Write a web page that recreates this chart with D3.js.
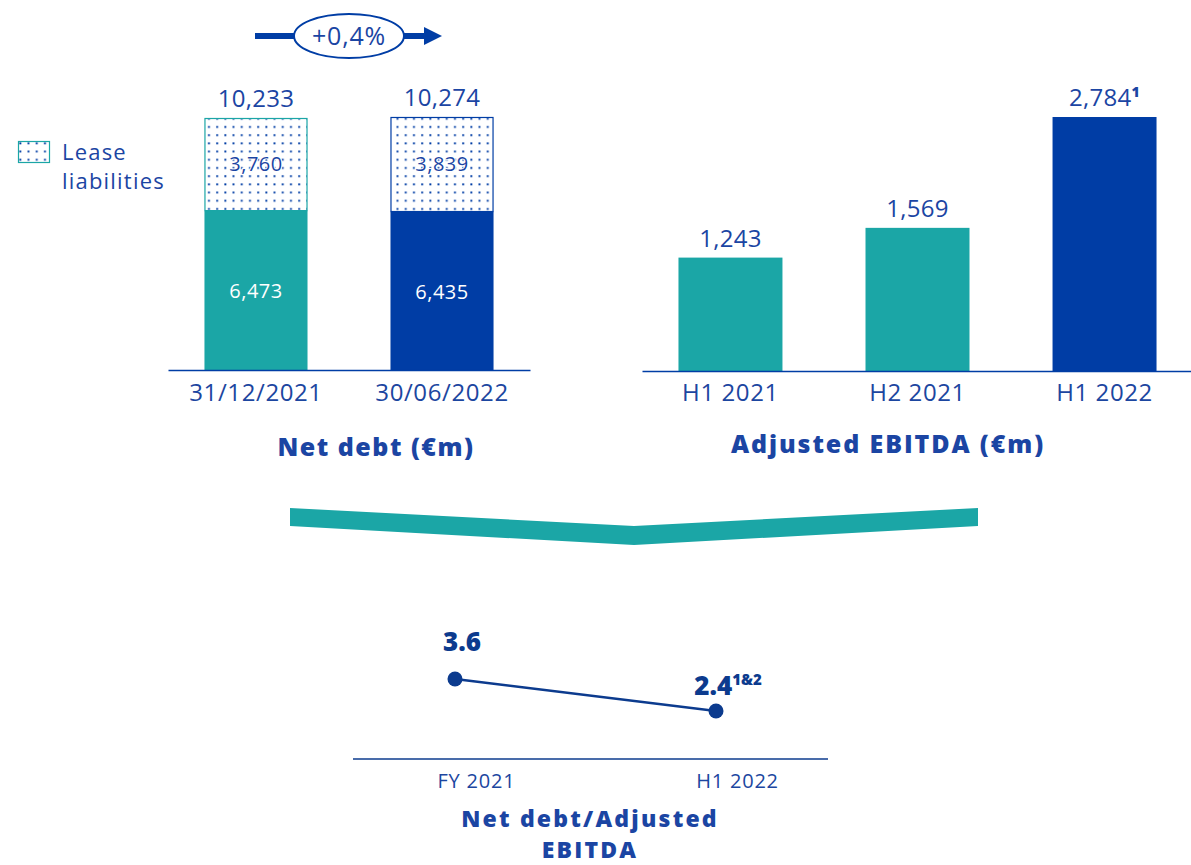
<!DOCTYPE html>
<html>
<head>
<meta charset="utf-8">
<script src="https://cdn.jsdelivr.net/npm/d3@7"></script>
<style>
  body { margin: 0; background: #fff; }
  svg { font-family: "Open Sans", sans-serif; }
  .axis text { fill: #1c46a0; }
</style>
</head>
<body>
<svg id="chart" width="1191" height="865"></svg>
<script>
// data
var debtDates = ["31/12/2021", "30/06/2022"];
var netDebtExLease = [6473, 6435];
var leaseLiab = [3760, 3839];
var netDebtTotal = [10233, 10274];
var debtChange = "+0,4%";

var ebitdaPeriods = ["H1 2021", "H2 2021", "H1 2022"];
var ebitdaValues = [1243, 1569, 2784];
var ebitdaNotes = ["", "", "1"];

var ratioPeriods = ["FY 2021", "H1 2022"];
var ratioValues = [3.6, 2.4];
var ratioNotes = ["", "1&2"];

var teal = "#1ba6a6", navy = "#003da5", txt = "#1b45a3", dark = "#0c3b8e";

var svg = d3.select("#chart");

// dotted pattern for lease liabilities
var defs = svg.append("defs");
var pat = defs.append("pattern").attr("id", "dots")
  .attr("patternUnits", "userSpaceOnUse").attr("width", 8.2).attr("height", 8.2);
pat.append("rect").attr("width", 8.2).attr("height", 8.2).attr("fill", "#fff");
pat.append("rect").attr("x", 3).attr("y", 3).attr("width", 1.9).attr("height", 1.9).attr("fill", navy);

// ---------- Net debt ----------
var base1 = 370;
var x1 = d3.scaleBand().domain(debtDates).range([168, 530]).paddingInner(0.446).paddingOuter(0.196);
var y1 = d3.scaleLinear().domain([0, 10233]).range([base1, 118]);
var fills1 = [teal, navy];

var g1 = svg.append("g");
g1.selectAll("rect.lower").data(debtDates).enter().append("rect")
  .attr("x", function(d) { return x1(d); })
  .attr("width", x1.bandwidth())
  .attr("y", function(d, i) { return y1(netDebtExLease[i]); })
  .attr("height", function(d, i) { return base1 - y1(netDebtExLease[i]); })
  .attr("fill", function(d, i) { return fills1[i]; });

g1.selectAll("rect.lease").data(debtDates).enter().append("rect")
  .attr("x", function(d) { return x1(d) + 0.5; })
  .attr("width", x1.bandwidth() - 1)
  .attr("y", function(d, i) { return y1(netDebtTotal[i]) + 0.5; })
  .attr("height", function(d, i) { return y1(netDebtExLease[i]) - y1(netDebtTotal[i]) - 0.5; })
  .attr("fill", "url(#dots)")
  .attr("stroke", function(d, i) { return fills1[i]; })
  .attr("stroke-width", 1.2);

g1.selectAll("text.low").data(debtDates).enter().append("text")
  .attr("x", function(d) { return x1(d) + x1.bandwidth() / 2; })
  .attr("y", function(d, i) { return (y1(netDebtExLease[i]) + base1) / 2 + 8; })
  .attr("text-anchor", "middle").attr("font-size", 20).attr("letter-spacing", 0.5).attr("fill", "#fff")
  .text(function(d, i) { return d3.format(",")(netDebtExLease[i]); });

g1.selectAll("text.lease").data(debtDates).enter().append("text")
  .attr("x", function(d) { return x1(d) + x1.bandwidth() / 2; })
  .attr("y", function(d, i) { return (y1(netDebtExLease[i]) + y1(netDebtTotal[i])) / 2 + 7; })
  .attr("text-anchor", "middle").attr("font-size", 20).attr("letter-spacing", 0.5).attr("fill", txt)
  .attr("stroke", "#fff").attr("stroke-width", 2).attr("paint-order", "stroke")
  .text(function(d, i) { return d3.format(",")(leaseLiab[i]); });

g1.selectAll("text.tot").data(debtDates).enter().append("text")
  .attr("x", function(d) { return x1(d) + x1.bandwidth() / 2; })
  .attr("y", function(d, i) { return y1(netDebtTotal[i]) - 11; })
  .attr("text-anchor", "middle").attr("font-size", 24).attr("letter-spacing", 0.3).attr("fill", txt)
  .text(function(d, i) { return d3.format(",")(netDebtTotal[i]); });

var ax1 = g1.append("g").attr("class", "axis").attr("transform", "translate(0," + base1 + ")")
  .call(d3.axisBottom(x1).tickSize(0).tickSizeOuter(0).tickPadding(14));
ax1.select(".domain").attr("stroke", navy).attr("stroke-width", 1.5);
ax1.selectAll("text").attr("font-size", 24).attr("letter-spacing", 0.6).attr("font-family", "Open Sans");

g1.append("text").attr("x", 376).attr("y", 456).attr("text-anchor", "middle")
  .attr("font-size", 25).attr("font-weight", 800).attr("letter-spacing", 1.5)
  .attr("fill", txt).text("Net debt (€m)");

// legend
svg.append("rect").attr("x", 18.5).attr("y", 141.5).attr("width", 31).attr("height", 21)
  .attr("fill", "url(#dots)").attr("stroke", teal).attr("stroke-width", 1.2);
svg.append("text").attr("x", 62).attr("y", 160).attr("font-size", 22).attr("letter-spacing", 1.2)
  .attr("fill", txt).text("Lease");
svg.append("text").attr("x", 62).attr("y", 189).attr("font-size", 22).attr("letter-spacing", 1.2)
  .attr("fill", txt).text("liabilities");

// change arrow
var arr = svg.append("g");
arr.append("line").attr("x1", 255).attr("y1", 36).attr("x2", 296).attr("y2", 36)
  .attr("stroke", navy).attr("stroke-width", 6);
arr.append("line").attr("x1", 402).attr("y1", 36).attr("x2", 425).attr("y2", 36)
  .attr("stroke", navy).attr("stroke-width", 6);
arr.append("path").attr("d", "M424,27 L442,36 L424,45 Z").attr("fill", navy);
arr.append("ellipse").attr("cx", 349).attr("cy", 36).attr("rx", 55).attr("ry", 22)
  .attr("fill", "#fff").attr("stroke", navy).attr("stroke-width", 2);
arr.append("text").attr("x", 349).attr("y", 45).attr("text-anchor", "middle")
  .attr("font-size", 25).attr("letter-spacing", 0.8).attr("fill", txt).text(debtChange);

// ---------- Adjusted EBITDA ----------
var base2 = 371;
var x2 = d3.scaleBand().domain(ebitdaPeriods).range([642, 1193]).paddingInner(0.444).paddingOuter(0.195);
var y2 = d3.scaleLinear().domain([0, 2784]).range([base2, 117]);
var fills2 = [teal, teal, navy];

var g2 = svg.append("g");
g2.selectAll("rect").data(ebitdaPeriods).enter().append("rect")
  .attr("x", function(d) { return x2(d); })
  .attr("width", x2.bandwidth())
  .attr("y", function(d, i) { return y2(ebitdaValues[i]); })
  .attr("height", function(d, i) { return base2 - y2(ebitdaValues[i]); })
  .attr("fill", function(d, i) { return fills2[i]; });

var lab2 = g2.selectAll("text.val").data(ebitdaPeriods).enter().append("text")
  .attr("x", function(d) { return x2(d) + x2.bandwidth() / 2; })
  .attr("y", function(d, i) { return y2(ebitdaValues[i]) - 11; })
  .attr("text-anchor", "middle").attr("font-size", 24).attr("letter-spacing", 0.3).attr("fill", txt);
lab2.append("tspan").text(function(d, i) { return d3.format(",")(ebitdaValues[i]); });
lab2.append("tspan").attr("dy", -9).attr("font-size", 14).attr("font-weight", 800)
  .text(function(d, i) { return ebitdaNotes[i]; });

var ax2 = g2.append("g").attr("class", "axis").attr("transform", "translate(0," + base2 + ")")
  .call(d3.axisBottom(x2).tickSize(0).tickSizeOuter(0).tickPadding(13));
ax2.select(".domain").attr("stroke", navy).attr("stroke-width", 1.5);
ax2.selectAll("text").attr("font-size", 24).attr("letter-spacing", 0.6).attr("font-family", "Open Sans");

g2.append("text").attr("x", 888).attr("y", 453).attr("text-anchor", "middle")
  .attr("font-size", 25).attr("font-weight", 800).attr("letter-spacing", 1.9)
  .attr("fill", txt).text("Adjusted EBITDA (€m)");

// chevron
svg.append("path")
  .attr("d", "M290,508 L634,526 L978,508 L978,526 L634,545 L290,526 Z")
  .attr("fill", teal);

// ---------- Net debt / Adjusted EBITDA ----------
var base3 = 759;
var x3 = d3.scalePoint().domain(ratioPeriods).range([455, 716]);
var y3 = d3.scaleLinear().domain([0.6, 4.5]).range([base3, 655]);

var g3 = svg.append("g");
g3.append("line").attr("x1", 353).attr("x2", 828).attr("y1", base3).attr("y2", base3)
  .attr("stroke", dark).attr("stroke-width", 1.3);

var line = d3.line()
  .x(function(d, i) { return x3(ratioPeriods[i]); })
  .y(function(d) { return y3(d); });
g3.append("path").datum(ratioValues).attr("d", line)
  .attr("fill", "none").attr("stroke", dark).attr("stroke-width", 2.3);
g3.selectAll("circle").data(ratioValues).enter().append("circle")
  .attr("cx", function(d, i) { return x3(ratioPeriods[i]); })
  .attr("cy", function(d) { return y3(d); })
  .attr("r", 7.5).attr("fill", dark);

var lab3 = g3.selectAll("text.val").data(ratioValues).enter().append("text")
  .attr("x", function(d, i) { return x3(ratioPeriods[i]) + [7, 12][i]; })
  .attr("y", function(d, i) { return y3(d) + [-28, -16][i]; })
  .attr("text-anchor", "middle").attr("font-size", 26).attr("font-weight", 800).attr("fill", dark);
lab3.append("tspan").text(function(d) { return d3.format(".1f")(d); });
lab3.append("tspan").attr("dy", -10).attr("font-size", 15)
  .text(function(d, i) { return ratioNotes[i]; });

var ax3 = g3.append("g").attr("class", "axis").attr("transform", "translate(0," + base3 + ")")
  .call(d3.axisBottom(x3).tickSize(0).tickSizeOuter(0).tickPadding(15));
ax3.select(".domain").remove();
ax3.selectAll("text").attr("font-size", 20).attr("letter-spacing", 0.8).attr("font-family", "Open Sans").attr("dx", 21);

g3.append("text").attr("x", 590).attr("y", 827).attr("text-anchor", "middle")
  .attr("font-size", 23).attr("font-weight", 800).attr("letter-spacing", 2.2)
  .attr("fill", txt).text("Net debt/Adjusted");
g3.append("text").attr("x", 590).attr("y", 858).attr("text-anchor", "middle")
  .attr("font-size", 23).attr("font-weight", 800).attr("letter-spacing", 2.2)
  .attr("fill", txt).text("EBITDA");
</script>
</body>
</html>
